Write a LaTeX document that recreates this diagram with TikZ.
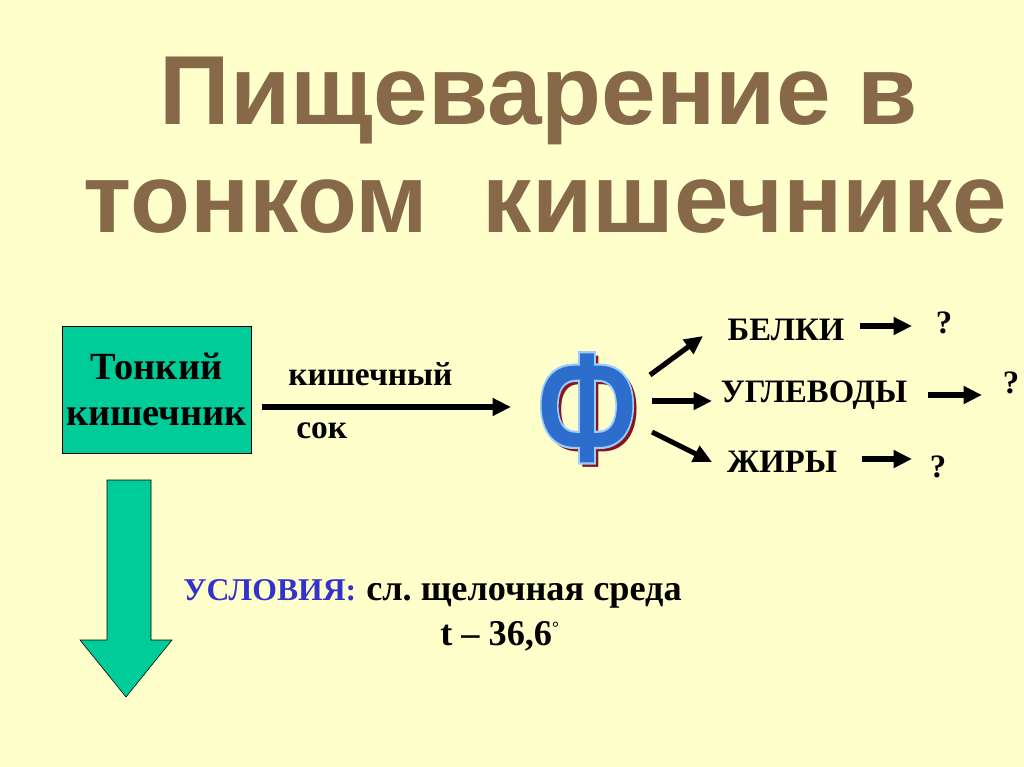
\documentclass[tikz,border=0pt]{standalone}
\usepackage{fontspec}
\setmainfont{Liberation Serif}
\newfontfamily\titlefont{Liberation Sans}
\usetikzlibrary{arrows.meta}

\definecolor{slidebg}{RGB}{255,255,204}
\definecolor{titlebrown}{RGB}{135,104,72}
\definecolor{boxgreen}{RGB}{0,204,153}
\definecolor{fblue}{RGB}{45,110,205}
\definecolor{fshadow}{RGB}{135,20,30}
\definecolor{condblue}{RGB}{51,51,204}

\newcommand{\outlined}[1]{\special{pdf:literal direct 2 Tr 1.5 w 0.6 0.8 1 RG}#1\special{pdf:literal direct 0 Tr}}
\newcommand{\shadowed}[1]{\makebox[0pt][l]{\hspace{3.5pt}\raisebox{-3pt}{\color{fshadow}#1}}\outlined{#1}}

\begin{document}
\begin{tikzpicture}[
            x=0.703125pt,y=-0.703125pt,
            title/.style={font=\titlefont\bfseries\fontsize{69}{80}\selectfont,text=titlebrown,inner sep=0pt},
            organ/.style={draw,thin,fill=boxgreen,minimum width=133pt,minimum height=89pt,inner sep=0pt,
                align=center,font=\bfseries\fontsize{27}{32.5}\selectfont},
            word/.style={font=\bfseries\fontsize{23}{26}\selectfont,inner sep=0pt},
            cond/.style={font=\bfseries\fontsize{25.5}{28}\selectfont,inner sep=0pt},
            juice/.style={font=\bfseries\fontsize{23.5}{26}\selectfont,inner sep=0pt},
            arr/.style={line width=3.6pt,-{Triangle[length=13pt,width=12pt]}}
        ]

            % Background
            \fill[slidebg] (0,0) rectangle (1024,767);
            \useasboundingbox (0,0) rectangle (1024,767);

            % Title
            \node[title,anchor=base] (T1) at (539,125) {Пищеварение в};
            \node[title,anchor=base] (T2) at (545,232) {тонком\ \ кишечнике};

            % Small intestine and juice
            \node[organ] (box) at (156.5,389.5) {Тонкий\\кишечник};
            \node[juice,anchor=base west] (juice1) at (288,385) {кишечный};
            \node[juice,anchor=base west] (juice2) at (296,438) {сок};

            % Enzyme letter
            \node[inner sep=0pt,text=fblue,font=\titlefont\bfseries\fontsize{112}{112}\selectfont] (f) at (587,410)
                {\scalebox{0.74}[1]{\shadowed{Ф}}};

            % Substances
            \node[word] (prot) at (786,330) {БЕЛКИ};
            \node[word] (carb) at (814,395) {УГЛЕВОДЫ};
            \node[word] (fat) at (782,462) {ЖИРЫ};
            \node[word] (q1) at (944,323) {?};
            \node[word] (q2) at (1011,383) {?};
            \node[word] (q3) at (938,467) {?};

            \coordinate (in) at (262,407);
            \coordinate (out) at (511,407);
            \draw[arr] (in) -- (out);

            \draw[arr] (650,375) -- (703,336);
            \draw[arr] (652,401) -- (712,401);
            \draw[arr] (652,432) -- (712,462);

            \draw[arr] (860,326) -- (912,326);
            \draw[arr] (928,395) -- (982,395);
            \draw[arr] (862,459) -- (912,459);

            % Down arrow
            \draw[thin,fill=boxgreen] (107,480) -- (151,480) -- (151,640) -- (172,640) -- (126,697)
                -- (80,640) -- (107,640) -- cycle;

            % Conditions
            \node[word,anchor=base west,text=condblue,font=\bfseries\fontsize{22.3}{26}\selectfont] (cond) at (183,600) {УСЛОВИЯ:};
            \node[cond,anchor=base west] (medium) at (366,600) {сл.\ щелочная среда};
            \node[cond,anchor=base west] (temp) at (440,645) {t – 36,6\raisebox{8pt}{\fontsize{12}{12}\selectfont°}};
        \end{tikzpicture}
\end{document}
